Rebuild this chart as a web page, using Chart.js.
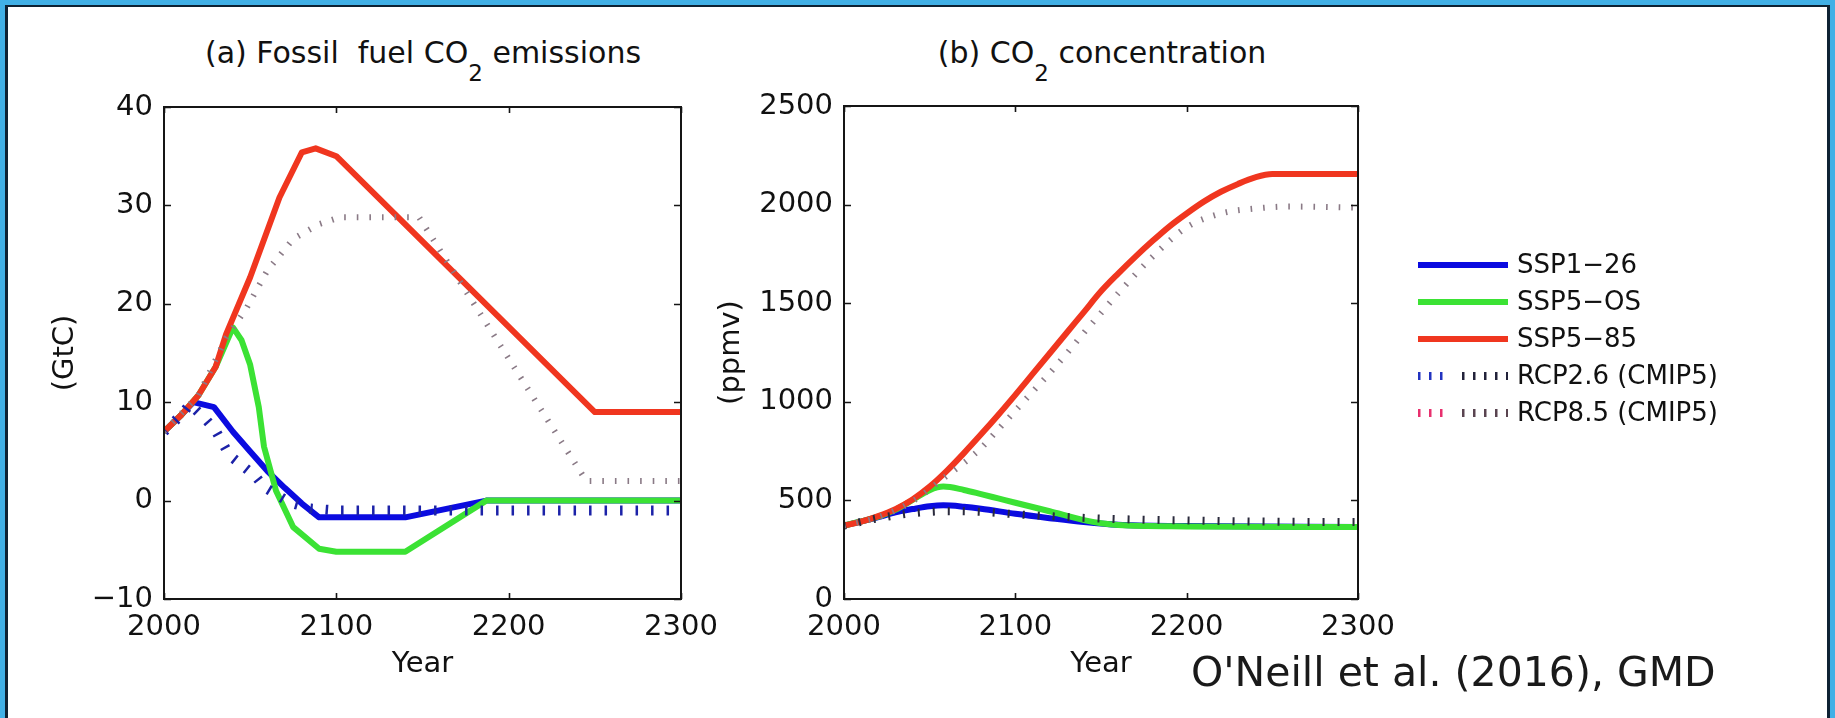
<!DOCTYPE html>
<html>
<head>
<meta charset="utf-8">
<script src="https://cdn.jsdelivr.net/npm/chart.js@4.4.1/dist/chart.umd.min.js"></script>
<style>
  html, body { margin: 0; padding: 0; }
  body { width: 1835px; height: 718px; overflow: hidden; background: #41b0e6; position: relative; font-family: 'DejaVu Sans', sans-serif; color: #111; }
  #frame { position: absolute; left: 5px; top: 5px; width: 1825px; height: 713px; box-sizing: border-box; background: #fff;
           border-left: 3px solid #0e2233; border-top: 2px solid #0e2233; border-right: 3px solid #0e2233; }
  .box { position: absolute; }
  .title { position: absolute; width: 600px; top: 38px; font-size: 30px; line-height: 30px; text-align: center; white-space: pre; }
  .sub { font-size: 23px; position: relative; top: 18px; }
  #credit { position: absolute; left: 1191px; top: 652px; font-size: 41px; line-height: 41px; white-space: pre; color: #1a1a1a; }
</style>
</head>
<body>
<div id="frame"></div>
<div class="title" style="left:123px">(a) Fossil  fuel CO<span class="sub">2</span> emissions</div>
<div class="title" style="left:802px">(b) CO<span class="sub">2</span> concentration</div>
<div class="box" style="left:8px; top:60px; width:752px; height:629px"><canvas id="emis"></canvas></div>
<div class="box" style="left:700px; top:59px; width:1130px; height:630px"><canvas id="conc"></canvas></div>
<div id="credit">O'Neill et al. (2016), GMD</div>
<script>
// (a) fossil fuel CO2 emissions, GtC
const emisYearsSSP126 = [2000, 2010, 2017, 2029, 2040, 2050, 2060, 2070, 2080, 2090, 2140, 2187, 2300];
const emisSSP126      = [7, 8.7, 10, 9.5, 7, 5, 3, 1.3, -0.3, -1.7, -1.7, 0, 0];
const emisYearsSSP5OS = [2000, 2010, 2020, 2030, 2040, 2045, 2050, 2055, 2058, 2065, 2075, 2090, 2100, 2140, 2187, 2300];
const emisSSP5OS      = [7, 8.7, 10.7, 13.6, 17.6, 16.3, 13.8, 9.5, 5.5, 1.0, -2.7, -4.9, -5.2, -5.2, 0, 0];
const emisYearsSSP585 = [2000, 2010, 2020, 2030, 2036, 2050, 2067, 2080, 2088, 2100, 2250, 2300];
const emisSSP585      = [7, 8.7, 10.7, 13.6, 16.9, 22.7, 30.8, 35.4, 35.8, 35, 9, 9];
const emisYearsRCP26  = [2000, 2010, 2015, 2024, 2030, 2038, 2053, 2058, 2073, 2085, 2100, 2300];
const emisRCP26       = [7, 8.7, 9.8, 8.3, 7.1, 4.6, 2.5, 1.4, -0.2, -0.8, -1, -1];
const emisYearsRCP85  = [2000, 2020, 2036, 2048, 2060, 2075, 2090, 2102, 2148, 2245, 2300];
const emisRCP85       = [7, 10.7, 16.5, 19.6, 23.4, 26.6, 28.1, 28.8, 28.8, 2, 2];

// (b) CO2 concentration, ppmv
const concYearsSSP126 = [2000, 2020, 2030, 2040, 2050, 2058, 2070, 2080, 2100, 2120, 2140, 2160, 2200, 2300];
const concSSP126      = [372, 415, 440, 456, 470, 475, 468, 458, 432, 410, 390, 376, 370, 365];
const concYearsSSP5OS = [2000, 2020, 2030, 2040, 2050, 2058, 2070, 2080, 2090, 2100, 2120, 2140, 2150, 2160, 2200, 2300];
const concSSP5OS      = [372, 418, 452, 502, 552, 570, 553, 532, 510, 488, 445, 400, 384, 375, 368, 365];
const concYearsSSP585 = [2000, 2010, 2020, 2030, 2040, 2050, 2060, 2070, 2080, 2090, 2100, 2110, 2120, 2130,
                         2140, 2150, 2160, 2170, 2180, 2190, 2200, 2210, 2220, 2230, 2240, 2250, 2300];
const concSSP585      = [372, 392, 420, 456, 505, 570, 650, 740, 835, 933, 1035, 1140, 1245, 1350,
                         1455, 1560, 1650, 1735, 1815, 1890, 1955, 2015, 2065, 2105, 2138, 2155, 2155];
const concYearsRCP26  = [2000, 2020, 2040, 2050, 2060, 2080, 2100, 2150, 2200, 2250, 2300];
const concRCP26       = [372, 410, 435, 442, 445, 442, 430, 408, 398, 392, 390];
const concYearsRCP85  = [2000, 2020, 2040, 2060, 2070, 2080, 2090, 2100, 2110, 2120, 2130, 2140, 2150, 2160,
                         2180, 2200, 2220, 2240, 2260, 2300];
const concRCP85       = [372, 415, 495, 625, 690, 765, 860, 955, 1050, 1145, 1245, 1350, 1450, 1550,
                         1735, 1885, 1955, 1980, 1990, 1985];

const seriesLabels = ['SSP1\u221226', 'SSP5\u2212OS', 'SSP5\u221285', 'RCP2.6 (CMIP5)', 'RCP8.5 (CMIP5)'];
const yearTicks = [2000, 2100, 2200, 2300];
const emisTicks = [-10, 0, 10, 20, 30, 40];
const concTicks = [0, 500, 1000, 1500, 2000, 2500];

const FONT = "'DejaVu Sans', sans-serif";
Chart.defaults.font.family = FONT;
Chart.defaults.color = '#111';

function pts(xs, ys) {
    return xs.map((x, i) => ({x: x, y: ys[i]}));
}

function solid(label, data, color, order, smooth) {
    return {
        label: label, data: data, borderColor: color, backgroundColor: color,
        borderWidth: 6, borderJoinStyle: 'round', pointRadius: 0, fill: false, order: order,
        tension: 0, cubicInterpolationMode: smooth ? 'monotone' : 'default'
    };
}

function dotted(label, data, color, accent, width, dash, order, smooth) {
    return {
        label: label, data: data, borderColor: color, backgroundColor: color, legendAccent: accent,
        borderWidth: width, borderDash: dash, borderCapStyle: 'butt', pointRadius: 0, fill: false, order: order,
        tension: 0, cubicInterpolationMode: smooth ? 'monotone' : 'default'
    };
}

const BLUE = '#0b0be0', GREEN = '#3be234', RED = '#f0361f';

// box around the plot area with inward ticks on all four sides
const boxPlugin = {
    id: 'matlabBox',
    afterDatasetsDraw(chart) {
        const {ctx, chartArea: a, scales} = chart;
        ctx.save();
        ctx.strokeStyle = '#151515';
        ctx.lineWidth = 2;
        ctx.strokeRect(a.left, a.top, a.right - a.left, a.bottom - a.top);
        ctx.lineWidth = 1.6;
        ctx.beginPath();
        scales.x.ticks.forEach(t => {
            const px = Math.round(scales.x.getPixelForValue(t.value)) + 0.5;
            ctx.moveTo(px, a.bottom); ctx.lineTo(px, a.bottom - 6);
            ctx.moveTo(px, a.top); ctx.lineTo(px, a.top + 6);
        });
        scales.y.ticks.forEach(t => {
            const py = Math.round(scales.y.getPixelForValue(t.value)) + 0.5;
            ctx.moveTo(a.left, py); ctx.lineTo(a.left + 7, py);
            ctx.moveTo(a.right, py); ctx.lineTo(a.right - 7, py);
        });
        ctx.stroke();
        ctx.restore();
    }
};

// legend to the right of panel (b), built from its datasets
const sideLegend = {
    id: 'sideLegend',
    afterDraw(chart, args, opts) {
        const ctx = chart.ctx;
        ctx.save();
        ctx.font = '26px ' + FONT;
        ctx.textBaseline = 'middle';
        chart.data.datasets.forEach((ds, i) => {
            const y = opts.top + i * opts.rowGap;
            const x0 = opts.left, x1 = opts.left + opts.lineLen;
            if (ds.borderDash) {
                ctx.lineWidth = 8;
                ctx.setLineDash([2.5, 8.5]);
                ctx.strokeStyle = ds.legendAccent;
                ctx.beginPath(); ctx.moveTo(x0, y); ctx.lineTo(x0 + 33, y); ctx.stroke();
                ctx.strokeStyle = ds.legendDark;
                ctx.beginPath(); ctx.moveTo(x0 + 44, y); ctx.lineTo(x1, y); ctx.stroke();
                ctx.setLineDash([]);
            } else {
                ctx.lineWidth = 6;
                ctx.strokeStyle = ds.borderColor;
                ctx.beginPath(); ctx.moveTo(x0, y); ctx.lineTo(x1, y); ctx.stroke();
            }
            ctx.fillStyle = '#111';
            ctx.fillText(ds.label, x1 + opts.textGap, y + 1);
        });
        ctx.restore();
    }
};

function yearAxis(titlePad) {
    return {
        type: 'linear', min: 2000, max: 2300,
        afterBuildTicks: s => { s.ticks = yearTicks.map(v => ({value: v})); },
        afterFit: s => { s.height = 90; },
        grid: {display: false, drawTicks: false},
        border: {display: false},
        ticks: {font: {size: 29}, padding: 11, maxRotation: 0, callback: v => String(v)},
        title: {display: true, text: 'Year', font: {size: 29}, padding: {top: 0, bottom: titlePad}}
    };
}

function valueAxis(min, max, tickList, title, width, titlePad) {
    return {
        type: 'linear', min: min, max: max,
        afterBuildTicks: s => { s.ticks = tickList.map(v => ({value: v})); },
        afterFit: s => { s.width = width; },
        grid: {display: false, drawTicks: false},
        border: {display: false},
        ticks: {font: {size: 29}, padding: 11, callback: v => String(v).replace('-', '\u2212')},
        title: {display: true, text: title, font: {size: 29}, padding: {top: titlePad, bottom: 0}}
    };
}

const common = {
    responsive: true,
    maintainAspectRatio: false,
    animation: false,
    events: [],
    plugins: {legend: {display: false}, tooltip: {enabled: false}}
};

new Chart(document.getElementById('emis'), {
    type: 'line',
    data: {
        datasets: [
            solid(seriesLabels[0], pts(emisYearsSSP126, emisSSP126), BLUE, 5, false),
            solid(seriesLabels[1], pts(emisYearsSSP5OS, emisSSP5OS), GREEN, 4, false),
            solid(seriesLabels[2], pts(emisYearsSSP585, emisSSP585), RED, 3, false),
            dotted(seriesLabels[3], pts(emisYearsRCP26, emisRCP26), '#1c22a8', '#1c22a8', 10, [2.5, 13], 2, false),
            dotted(seriesLabels[4], pts(emisYearsRCP85, emisRCP85), '#8a7a86', '#8a7a86', 6, [1.6, 11], 1, false)
        ]
    },
    options: Object.assign({}, common, {
        layout: {padding: {top: 47, right: 79, left: 0, bottom: 0}},
        scales: {
            x: yearAxis(7),
            y: valueAxis(-10, 40, emisTicks, '(GtC)', 156, 40)
        }
    }),
    plugins: [boxPlugin]
});

const concSets = [
    solid(seriesLabels[0], pts(concYearsSSP126, concSSP126), BLUE, 5, true),
    solid(seriesLabels[1], pts(concYearsSSP5OS, concSSP5OS), GREEN, 4, true),
    solid(seriesLabels[2], pts(concYearsSSP585, concSSP585), RED, 3, true),
    dotted(seriesLabels[3], pts(concYearsRCP26, concRCP26), '#2a2a3c', '#2233c0', 8, [2, 13], 2, true),
    dotted(seriesLabels[4], pts(concYearsRCP85, concRCP85), '#8a7a86', '#e8306e', 6, [1.6, 11], 1, true)
];
concSets[3].legendDark = '#22223a';
concSets[4].legendDark = '#5a4450';

new Chart(document.getElementById('conc'), {
    type: 'line',
    data: {datasets: concSets},
    options: Object.assign({}, common, {
        layout: {padding: {top: 47, right: 472, left: 0, bottom: 0}},
        scales: {
            x: yearAxis(7),
            y: valueAxis(0, 2500, concTicks, '(ppmv)', 144, 14)
        },
        plugins: Object.assign({}, common.plugins, {
            sideLegend: {left: 718, top: 206, rowGap: 37, lineLen: 90, textGap: 9}
        })
    }),
    plugins: [boxPlugin, sideLegend]
});
</script>
</body>
</html>
